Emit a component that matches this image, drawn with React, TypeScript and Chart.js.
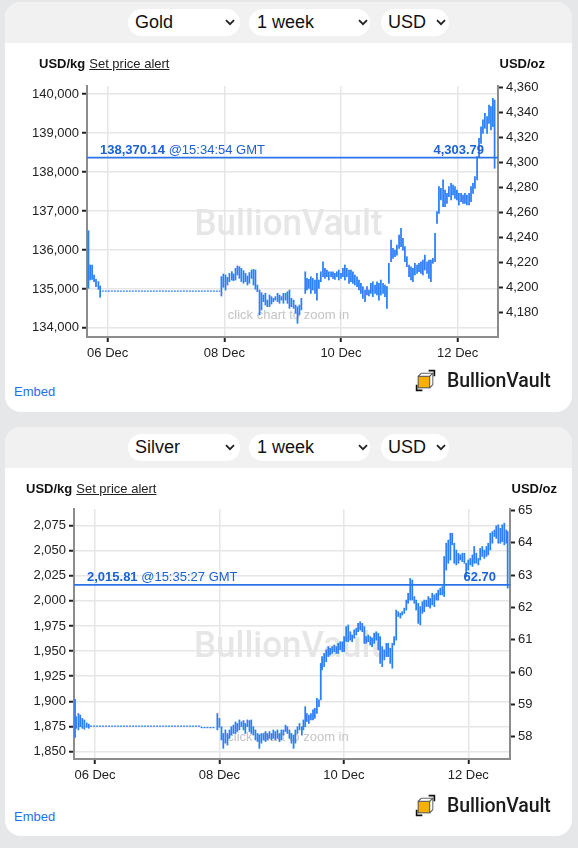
import React, { useEffect, useRef } from "react";
import { Chart, registerables } from "chart.js";

Chart.register(...registerables);

const OZ_PER_KG = 32.1507;
const FONT = '"Liberation Sans", Arial, Helvetica, sans-serif';
Chart.defaults.font.family = FONT;
Chart.defaults.font.size = 13;
Chart.defaults.color = "#222";

// ---------- shared axis data ----------
const xTickHours = [0, 48, 96, 144];
const xTickLabels = ["06 Dec", "08 Dec", "10 Dec", "12 Dec"];

// ---------- GOLD (hours from 06 Dec 00:00 GMT, USD/oz high-low) ----------
const goldHours = [
  -7.9, -7.2, -6.4, -5.6, -4.8, -3.8, -3.1,
  46.8, 47.6, 48.5, 49.3, 50.1, 51.1, 51.8, 52.6, 53.4, 54.2,
  55.0, 55.9, 56.7, 57.5, 58.3, 59.2, 60.0, 60.8, 61.6, 62.5,
  63.3, 64.1, 64.9, 65.7, 66.6, 67.4, 68.2, 69.0, 69.9, 70.7,
  71.5, 72.3, 73.2, 74.0, 74.8, 75.6, 76.5, 77.3, 78.1, 78.9, 79.7,
  81.3, 82.0, 82.8, 83.6, 84.4, 85.3, 86.1, 86.9, 87.7, 88.6,
  89.4, 90.2, 91.0, 91.9, 92.7, 93.5, 94.3, 95.1, 96.0, 96.8,
  97.6, 98.4, 99.3, 100.1, 100.9, 101.7, 102.6, 103.4, 104.2, 105.0,
  105.9, 106.7, 107.5, 108.3, 109.1, 110.0, 110.8, 111.6, 112.4, 113.3,
  114.1, 114.9, 115.7, 116.6, 117.4, 118.2, 119.0, 119.9, 120.7, 121.5,
  122.3, 123.1, 124.0, 124.8, 125.6, 126.4, 127.3, 128.1, 128.9, 129.7,
  130.5, 131.4, 132.2, 133.0, 133.8, 134.7, 135.5, 136.3, 137.1, 138.0,
  138.8, 139.6, 140.4, 141.3, 142.1, 142.9, 143.7, 144.5, 145.4, 146.2,
  147.0, 147.8, 148.7, 149.5, 150.3, 151.1, 152.0, 152.8, 153.6, 154.4,
  155.2, 156.1, 156.9, 157.7, 158.5, 159.2,
];
const goldHigh = [
  4245.5, 4218.1, 4218.1, 4210.1, 4206.6, 4204.8, 4201.3,
  4208.8, 4210.9, 4210.1, 4208.2, 4211.4, 4212.8, 4210.9, 4215.4, 4217.3, 4216.8,
  4215.4, 4213.6, 4211.4, 4209.3, 4212.0, 4214.1, 4214.6, 4214.1, 4202.1, 4198.1,
  4196.0, 4194.1, 4195.5, 4190.1, 4194.1, 4192.8, 4191.5, 4192.8, 4195.5, 4194.1,
  4192.8, 4195.5, 4195.5, 4196.8, 4198.1, 4191.5, 4190.1, 4186.1, 4184.8, 4186.1, 4191.5,
  4212.7, 4207.4, 4206.6, 4208.7, 4207.4, 4206.1, 4211.4, 4206.1, 4212.7, 4220.7,
  4215.4, 4214.1, 4212.7, 4212.7, 4212.7, 4211.4, 4212.7, 4214.1, 4211.4, 4215.4,
  4218.1, 4215.4, 4214.1, 4214.1, 4212.7, 4210.1, 4208.7, 4206.1, 4203.4, 4200.8,
  4198.1, 4200.8, 4198.1, 4203.4, 4204.7, 4202.1, 4204.7, 4203.4, 4206.1, 4203.4,
  4202.1, 4200.8, 4219.4, 4238.0, 4231.4, 4230.0, 4234.0, 4242.0, 4247.3, 4239.4,
  4232.7, 4224.7, 4218.1, 4216.7, 4215.4, 4219.4, 4218.1, 4219.4, 4220.7, 4222.1,
  4226.0, 4220.7, 4222.1, 4222.1, 4223.4, 4243.4, 4260.7, 4280.6, 4279.3, 4286.0,
  4278.0, 4275.3, 4280.6, 4283.3, 4281.9, 4280.6, 4278.0, 4275.3, 4275.3, 4274.0,
  4275.3, 4274.0, 4275.3, 4280.6, 4283.3, 4288.6, 4304.6, 4319.2, 4328.5, 4333.9,
  4339.2, 4336.5, 4345.8, 4344.5, 4351.2, 4349.8,
];
const goldLow = [
  4199.5, 4206.1, 4206.6, 4204.8, 4200.8, 4198.7, 4192.3,
  4193.3, 4200.3, 4198.1, 4202.1, 4204.8, 4206.1, 4205.6, 4206.1, 4210.1, 4207.4,
  4204.8, 4203.5, 4204.8, 4202.1, 4203.5, 4207.4, 4202.1, 4198.7, 4196.8, 4178.2,
  4182.2, 4188.8, 4186.1, 4184.8, 4184.8, 4186.9, 4188.8, 4190.1, 4188.8, 4187.5,
  4190.1, 4187.5, 4190.1, 4187.5, 4183.5, 4184.8, 4183.5, 4179.5, 4171.5, 4178.2, 4182.2,
  4195.4, 4198.1, 4199.4, 4195.4, 4198.1, 4195.4, 4190.1, 4199.4, 4204.7, 4208.7,
  4207.4, 4208.7, 4206.1, 4208.7, 4207.4, 4206.6, 4208.7, 4206.1, 4207.4, 4208.7,
  4206.1, 4208.7, 4203.4, 4204.7, 4203.4, 4202.1, 4200.8, 4198.1, 4195.4, 4191.4,
  4188.8, 4194.1, 4193.3, 4195.4, 4192.8, 4195.4, 4194.1, 4190.1, 4194.1, 4195.4,
  4192.8, 4183.5, 4203.4, 4220.7, 4223.4, 4224.7, 4226.0, 4231.4, 4232.7, 4230.0,
  4220.7, 4216.7, 4208.7, 4206.1, 4204.7, 4210.1, 4211.4, 4212.7, 4211.4, 4210.1,
  4214.1, 4211.4, 4207.4, 4204.7, 4219.4, 4220.7, 4251.3, 4259.3, 4270.0, 4264.6,
  4264.6, 4267.3, 4272.6, 4270.0, 4274.0, 4271.3, 4270.0, 4266.0, 4268.6, 4267.3,
  4267.3, 4266.0, 4266.0, 4268.6, 4275.3, 4279.3, 4286.0, 4304.6, 4315.2, 4323.2,
  4327.2, 4323.2, 4331.2, 4325.9, 4328.5, 4295.3,
];
const goldFlatHours = [-2.4, 46.3];
const goldFlatValues = [4197.3, 4197.3];
const goldKgTicks = [134000, 135000, 136000, 137000, 138000, 139000, 140000];
const goldOzTicks = [4180, 4200, 4220, 4240, 4260, 4280, 4300, 4320, 4340, 4360];
const goldOzRange = [4160.6, 4361.0];
const goldHourRange = [-8.5, 160.6];
const goldCurrentOz = 4303.79;
const goldCurrentKgLabel = "138,370.14";
const goldCurrentOzLabel = "4,303.79";
const goldTimeLabel = "@15:34:54 GMT";

// ---------- SILVER ----------
const silverHours = [
  -7.7, -7.3, -6.4, -5.7, -4.9, -4.1, -3.2, -2.4,
  47.2, 48.0, 48.8, 49.5, 50.3, 51.1, 51.9, 52.6, 53.4, 54.2,
  54.9, 55.7, 56.5, 57.3, 58.0, 58.8, 59.6, 60.3, 61.1, 61.9,
  62.7, 63.4, 64.2, 65.0, 65.8, 66.5, 67.3, 68.1, 68.8, 69.6,
  70.4, 71.2, 71.9, 72.7, 73.5, 74.2, 75.0, 75.8, 76.6, 77.3,
  78.1, 78.9,
  79.8, 80.4, 81.1, 81.7, 82.5, 83.3, 84.1, 84.8, 85.6, 86.4,
  87.1, 87.6, 88.4, 89.2, 90.0, 90.7, 91.5, 92.3, 93.1, 93.8,
  94.6, 95.4, 96.1, 96.9, 97.7, 98.5, 99.2, 100.0, 100.8, 101.5,
  102.3, 103.1, 103.9, 104.6, 105.4, 106.2, 106.9, 107.7, 108.5, 109.3,
  110.0, 110.8, 111.6, 112.4, 113.1, 113.9, 114.7, 115.4, 116.2, 117.0,
  117.8, 118.5, 119.3, 120.1, 120.8, 121.6, 122.4, 123.2, 123.9, 124.7,
  125.5, 126.3, 127.0, 127.8, 128.6, 129.3, 130.1, 130.9, 131.7, 132.4,
  133.2, 134.0, 134.7, 135.5, 136.3, 137.1, 137.8, 138.6, 139.4, 140.2,
  140.9, 141.7, 142.5, 143.2, 144.0, 144.8, 145.6, 146.3, 147.1, 147.9,
  148.6, 149.4, 150.2, 151.0, 151.7, 152.5, 153.3, 154.1, 154.8, 155.6,
  156.4, 157.1, 157.9, 158.7, 159.2,
];
const silverHigh = [
  59.16, 58.62, 58.72, 58.67, 58.57, 58.52, 58.43, 58.39,
  58.72, 58.57, 58.31, 58.10, 58.21, 58.10, 58.21, 58.31, 58.36, 58.46,
  58.41, 58.52, 58.46, 58.50, 58.41, 58.52, 58.50, 58.52, 58.31, 58.21,
  58.10, 58.05, 58.10, 58.10, 58.16, 58.10, 58.16, 58.10, 58.21, 58.16,
  58.21, 58.10, 58.21, 58.21, 58.36, 58.31, 58.21, 58.10, 58.05, 58.21,
  58.31, 58.41,
  58.31, 58.52, 58.93, 58.72, 58.67, 58.72, 58.83, 58.88, 59.19, 59.14,
  60.27, 60.48, 60.58, 60.69, 60.79, 60.74, 60.79, 60.84, 60.79, 60.89,
  60.94, 60.94, 61.10, 61.41, 61.46, 61.25, 61.15, 61.31, 61.36, 61.51,
  61.56, 61.51, 61.41, 61.10, 61.15, 61.10, 61.05, 61.20, 61.25, 61.20,
  61.10, 60.79, 60.69, 60.89, 60.89, 60.74, 60.89, 61.10, 61.92, 61.87,
  61.82, 61.87, 61.98, 62.23, 62.44, 62.90, 62.85, 62.34, 62.23, 62.13,
  62.03, 62.18, 62.23, 62.23, 62.34, 62.28, 62.44, 62.39, 62.44, 62.54,
  62.60, 62.65, 63.58, 63.99, 64.09, 64.30, 64.30, 63.99, 63.78, 63.68,
  63.63, 63.68, 63.68, 63.37, 63.47, 63.52, 63.63, 63.89, 63.68, 63.52,
  63.83, 63.89, 63.78, 63.89, 63.99, 64.30, 64.35, 64.40, 64.53, 64.56,
  64.45, 64.56, 64.61, 64.40, 64.35,
];
const silverLow = [
  57.98, 58.26, 58.21, 58.31, 58.26, 58.23, 58.29, 58.26,
  58.21, 58.29, 57.90, 57.64, 57.80, 57.74, 57.95, 58.05, 58.10, 58.10,
  58.16, 58.21, 58.31, 58.21, 58.10, 58.31, 58.16, 58.10, 58.05, 57.90,
  57.85, 57.64, 57.80, 57.90, 57.85, 57.90, 57.95, 57.90, 57.95, 57.90,
  57.95, 57.85, 57.90, 58.05, 58.16, 58.10, 57.95, 57.80, 57.64, 57.80,
  58.10, 58.21,
  58.05, 58.21, 58.31, 58.47, 58.41, 58.52, 58.52, 58.57, 58.72, 58.93,
  59.14, 60.07, 60.17, 60.32, 60.48, 60.53, 60.58, 60.63, 60.58, 60.58,
  60.69, 60.63, 60.63, 60.95, 60.94, 60.99, 60.94, 61.05, 61.15, 61.25,
  61.30, 61.25, 60.89, 60.89, 60.94, 60.84, 60.79, 60.89, 60.99, 60.69,
  60.27, 60.17, 60.38, 60.48, 60.48, 60.27, 60.12, 60.84, 60.99, 61.72,
  61.67, 61.77, 61.82, 61.92, 62.13, 62.23, 62.23, 62.13, 61.92, 61.51,
  61.46, 61.82, 61.87, 62.03, 62.03, 61.98, 62.08, 62.03, 62.23, 62.23,
  62.39, 62.39, 62.34, 63.16, 63.37, 63.47, 63.94, 63.37, 63.32, 63.37,
  63.47, 63.42, 63.37, 62.96, 63.16, 63.32, 63.27, 63.37, 63.37, 63.32,
  63.47, 63.58, 63.52, 63.58, 63.63, 63.78, 63.99, 64.20, 64.14, 63.99,
  63.99, 64.04, 63.94, 63.99, 62.60,
];
const silverFlatHours = [-1.9, 40.5, 41.2, 46.3];
const silverFlatValues = [58.33, 58.33, 58.28, 58.28];
const silverKgTicks = [1850, 1875, 1900, 1925, 1950, 1975, 2000, 2025, 2050, 2075];
const silverOzTicks = [58, 59, 60, 61, 62, 63, 64, 65];
const silverOzRange = [57.31, 65.05];
const silverHourRange = [-8.1, 160.1];
const silverCurrentOz = 62.7;
const silverCurrentKgLabel = "2,015.81";
const silverCurrentOzLabel = "62.70";
const silverTimeLabel = "@15:35:27 GMT";

// ---------- styling / layout ----------
const BAR = "#2d7ff9";
const LINE = "#2a74ea";
const LABEL = "#1a62d6";
const GRID = "#e6e6e6";
const AXIS = "#8c8c8c";
const PAGE_W = 578;
const CANVAS_H = 300;

type Spec = {
  metal: string;
  panelTop: number;
  panelHeight: number;
  plot: { left: number; right: number; top: number; bottom: number };
  hours: number[];
  high: number[];
  low: number[];
  flatHours: number[];
  flatValues: number[];
  kgTicks: number[];
  ozTicks: number[];
  ozRange: number[];
  hourRange: number[];
  current: number;
  kgLabel: string;
  ozLabel: string;
  timeLabel: string;
};

const GOLD: Spec = {
  metal: "Gold",
  panelTop: 2,
  panelHeight: 410,
  plot: { left: 87, right: 498, top: 86, bottom: 337 },
  hours: goldHours,
  high: goldHigh,
  low: goldLow,
  flatHours: goldFlatHours,
  flatValues: goldFlatValues,
  kgTicks: goldKgTicks,
  ozTicks: goldOzTicks,
  ozRange: goldOzRange,
  hourRange: goldHourRange,
  current: goldCurrentOz,
  kgLabel: goldCurrentKgLabel,
  ozLabel: goldCurrentOzLabel,
  timeLabel: goldTimeLabel,
};

const SILVER: Spec = {
  metal: "Silver",
  panelTop: 427,
  panelHeight: 409,
  plot: { left: 74, right: 510, top: 509, bottom: 759 },
  hours: silverHours,
  high: silverHigh,
  low: silverLow,
  flatHours: silverFlatHours,
  flatValues: silverFlatValues,
  kgTicks: silverKgTicks,
  ozTicks: silverOzTicks,
  ozRange: silverOzRange,
  hourRange: silverHourRange,
  current: silverCurrentOz,
  kgLabel: silverCurrentKgLabel,
  ozLabel: silverCurrentOzLabel,
  timeLabel: silverTimeLabel,
};

function makeOverlay(s: Spec) {
  return {
    id: "overlay-" + s.metal,
    beforeDatasetsDraw(chart: any) {
      const { ctx, chartArea: a } = chart;
      const cx = (a.left + a.right) / 2 - 4;
      const cy = (a.top + a.bottom) / 2;
      ctx.save();
      ctx.font = "500 36px Roboto, " + FONT;
      const w = ctx.measureText("BullionVault").width;
      ctx.translate(cx, cy + 23);
      ctx.scale(188 / w, 1);
      ctx.fillStyle = "#e6e6e6";
      ctx.textAlign = "center";
      ctx.textBaseline = "alphabetic";
      ctx.fillText("BullionVault", 0, 0);
      ctx.restore();
      ctx.save();
      ctx.font = "13px " + FONT;
      ctx.fillStyle = "#c4c4c4";
      ctx.textAlign = "center";
      ctx.textBaseline = "middle";
      ctx.fillText("click chart to zoom in", cx, a.bottom - 22);
      ctx.restore();
    },
    afterDatasetsDraw(chart: any) {
      const { ctx, chartArea: a } = chart;
      const y = chart.scales.y2.getPixelForValue(s.current);
      ctx.save();
      ctx.strokeStyle = LINE;
      ctx.lineWidth = 1.6;
      ctx.beginPath();
      ctx.moveTo(a.left, y);
      ctx.lineTo(a.right, y);
      ctx.stroke();
      ctx.fillStyle = LABEL;
      ctx.textBaseline = "alphabetic";
      ctx.textAlign = "left";
      const x0 = a.left + 13;
      ctx.font = "bold 13px " + FONT;
      ctx.fillText(s.kgLabel, x0, y - 3.5);
      const w = ctx.measureText(s.kgLabel).width;
      ctx.font = "13px " + FONT;
      ctx.fillText(" " + s.timeLabel, x0 + w, y - 3.5);
      ctx.font = "bold 13px " + FONT;
      ctx.textAlign = "right";
      ctx.fillText(s.ozLabel, a.right - 14, y - 3.5);
      ctx.restore();
    },
  };
}

function fmt(v: any) {
  return Number(v).toLocaleString("en-US");
}

function buildConfig(s: Spec): any {
  const canvasTop = s.panelTop + 68;
  const bars = s.hours.map((h, i) => ({ x: h, y: [s.low[i], s.high[i]] }));
  const flat = s.flatHours.map((h, i) => ({ x: h, y: s.flatValues[i] }));
  const tickGrid = { tickColor: "#222", tickLength: 5, tickWidth: 2 };
  return {
    type: "bar",
    data: {
      datasets: [
        {
          type: "bar",
          data: bars,
          xAxisID: "x",
          yAxisID: "y2",
          backgroundColor: BAR,
          borderWidth: 0,
          barThickness: 1.1,
          minBarLength: 1,
          order: 1,
        },
        {
          type: "line",
          data: flat,
          xAxisID: "x",
          yAxisID: "y2",
          borderColor: BAR,
          borderWidth: 1.3,
          borderDash: [2, 1],
          pointRadius: 0,
          fill: false,
          order: 0,
        },
      ],
    },
    options: {
      animation: false,
      responsive: false,
      events: [],
      layout: { padding: { top: s.plot.top - canvasTop, left: 0, right: 0, bottom: 0 } },
      plugins: { legend: { display: false }, tooltip: { enabled: false }, title: { display: false } },
      scales: {
        x: {
          type: "linear",
          position: "bottom",
          min: s.hourRange[0],
          max: s.hourRange[1],
          bounds: "data",
          offset: false,
          grid: { color: GRID, lineWidth: 1.5, offset: false, ...tickGrid },
          border: { color: AXIS, width: 2 },
          ticks: {
            padding: 4,
            maxRotation: 0,
            autoSkip: false,
            color: "#222",
            callback: (v: any) => {
              const i = xTickHours.indexOf(Number(v));
              return i >= 0 ? xTickLabels[i] : "";
            },
          },
          afterBuildTicks: (sc: any) => {
            sc.ticks = xTickHours.map((v) => ({ value: v }));
          },
          afterFit: (sc: any) => {
            sc.height = CANVAS_H - (s.plot.bottom - canvasTop);
          },
        },
        y: {
          type: "linear",
          position: "left",
          min: s.ozRange[0] * OZ_PER_KG,
          max: s.ozRange[1] * OZ_PER_KG,
          bounds: "data",
          grid: { color: GRID, lineWidth: 1.5, ...tickGrid },
          border: { color: AXIS, width: 2 },
          ticks: { padding: 3, color: "#222", callback: fmt },
          afterBuildTicks: (sc: any) => {
            sc.ticks = s.kgTicks.map((v) => ({ value: v }));
          },
          afterFit: (sc: any) => {
            sc.width = s.plot.left;
          },
        },
        y2: {
          type: "linear",
          position: "right",
          min: s.ozRange[0],
          max: s.ozRange[1],
          bounds: "data",
          grid: { drawOnChartArea: false, ...tickGrid },
          border: { color: AXIS, width: 2 },
          ticks: { padding: 3, color: "#222", callback: fmt },
          afterBuildTicks: (sc: any) => {
            sc.ticks = s.ozTicks.map((v) => ({ value: v }));
          },
          afterFit: (sc: any) => {
            sc.width = PAGE_W - s.plot.right;
          },
        },
      },
    },
    plugins: [makeOverlay(s)],
  };
}

function PriceCanvas({ spec }: { spec: Spec }) {
  const ref = useRef<HTMLCanvasElement>(null);
  useEffect(() => {
    const chart = new Chart(ref.current as HTMLCanvasElement, buildConfig(spec));
    return () => chart.destroy();
  }, [spec]);
  return (
    <canvas
      ref={ref}
      width={PAGE_W}
      height={CANVAS_H}
      style={{ position: "absolute", left: 0, top: spec.panelTop + 68, width: PAGE_W, height: CANVAS_H }}
    />
  );
}

function Chevron({ x, y }: { x: number; y: number }) {
  return (
    <svg width="10" height="7" style={{ position: "absolute", left: x, top: y }} viewBox="0 0 10 7">
      <polyline points="1,1.2 5,5.2 9,1.2" fill="none" stroke="#222" strokeWidth="1.8" />
    </svg>
  );
}

function Pill({ left, width, top, text, textLeft, chevX }: any) {
  return (
    <>
      <div
        style={{
          position: "absolute",
          left,
          top,
          width,
          height: 27,
          borderRadius: 14,
          background: "#fff",
        }}
      />
      <div
        style={{
          position: "absolute",
          left: textLeft,
          top,
          height: 27,
          lineHeight: "27px",
          fontSize: 18,
          color: "#111",
          whiteSpace: "nowrap",
        }}
      >
        {text}
      </div>
      <Chevron x={chevX} y={top + 10} />
    </>
  );
}

function Logo({ top }: { top: number }) {
  return (
    <div style={{ position: "absolute", left: 415, top: top, height: 24, display: "flex", alignItems: "center" }}>
      <svg width="21" height="23" viewBox="0 0 20 22">
        <path d="M6 4 H17 V15" fill="none" stroke="#666" strokeWidth="1" />
        <rect x="3" y="7" width="11" height="11" fill="#f7b000" stroke="#555" strokeWidth="1" />
        <path d="M3 7 L6 4 M14 7 L17 4 M14 18 L17 15" stroke="#555" strokeWidth="1" />
        <path d="M13 1.5 H18.5 V7" fill="none" stroke="#111" strokeWidth="1.6" />
        <path d="M1.5 15 V20.5 H7" fill="none" stroke="#111" strokeWidth="1.6" />
      </svg>
      <span
        style={{
          marginLeft: 11,
          fontFamily: "Roboto, " + FONT,
          fontWeight: 500,
          fontSize: 19.5,
          color: "#1b1b1b",
          letterSpacing: "-0.1px",
        }}
      >
        BullionVault
      </span>
    </div>
  );
}

function Panel({ spec }: { spec: Spec }) {
  const t = spec.panelTop;
  const labelTop = t + 54;
  return (
    <>
      <div
        style={{
          position: "absolute",
          left: 5,
          top: t,
          width: 567,
          height: spec.panelHeight,
          borderRadius: 16,
          background: "#fff",
          overflow: "hidden",
        }}
      >
        <div style={{ height: 41, background: "#f1f1f1" }} />
      </div>
      <Pill left={128} width={112} top={t + 7} text={spec.metal} textLeft={135} chevX={225} />
      <Pill left={249} width={121} top={t + 7} text="1 week" textLeft={257} chevX={358} />
      <Pill left={381} width={68} top={t + 7} text="USD" textLeft={388} chevX={436} />
      <PriceCanvas spec={spec} />
      <div
        style={{
          position: "absolute",
          left: spec.plot.left - 48,
          top: labelTop,
          lineHeight: "16px",
          fontSize: 13,
          color: "#111",
          whiteSpace: "nowrap",
        }}
      >
        <b>USD/kg</b>
        <span style={{ marginLeft: 4, textDecoration: "underline", color: "#222" }}>Set price alert</span>
      </div>
      <div
        style={{
          position: "absolute",
          right: PAGE_W - (spec.plot.right + 47),
          top: labelTop,
          lineHeight: "16px",
          fontSize: 13,
          fontWeight: "bold",
          color: "#111",
          whiteSpace: "nowrap",
        }}
      >
        USD/oz
      </div>
      <div
        style={{
          position: "absolute",
          left: 14,
          top: t + 382,
          lineHeight: "16px",
          fontSize: 13,
          color: "#1a73e8",
        }}
      >
        Embed
      </div>
      <Logo top={t + 366} />
    </>
  );
}

export default function App() {
  return (
    <div
      style={{
        position: "absolute",
        left: 0,
        top: 0,
        width: PAGE_W,
        height: 848,
        background: "#e6e7e9",
        overflow: "hidden",
        fontFamily: FONT,
      }}
    >
      <Panel spec={GOLD} />
      <Panel spec={SILVER} />
    </div>
  );
}
